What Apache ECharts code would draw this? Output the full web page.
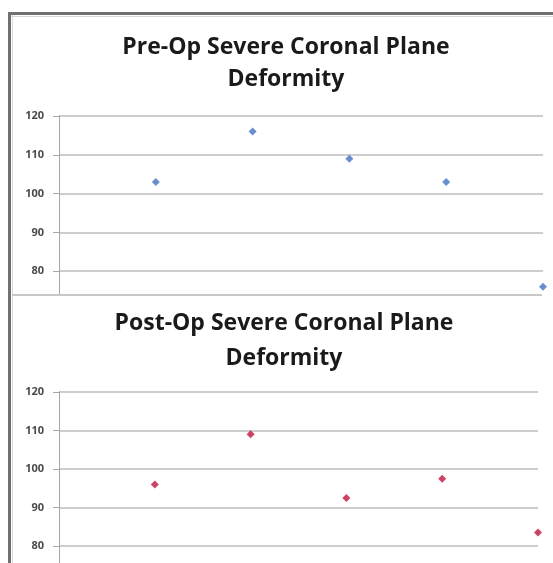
<!DOCTYPE html>
<html>
<head>
<meta charset="utf-8">
<script src="https://cdn.jsdelivr.net/npm/echarts@6/dist/echarts.min.js"></script>
<style>
html,body{margin:0;padding:0;background:#fff;}
#wrapTop{position:absolute;left:0;top:0;width:553px;height:294px;overflow:hidden;}
#wrapBot{position:absolute;left:0;top:294px;width:553px;height:269px;overflow:hidden;}
#chartTop,#chartBot{width:553px;height:330px;}
</style>
</head>
<body>
<div id="wrapTop"><div id="chartTop"></div></div>
<div id="wrapBot"><div id="chartBot"></div></div>
<script>
const xPositions = [1, 2, 3, 4, 5];
const preOpValues = [103, 116, 109, 103, 76];
const postOpValues = [96, 109, 92.5, 97.5, 83.5];
const yTicks = [70, 80, 90, 100, 110, 120];
const titlePre = 'Pre-Op Severe Coronal Plane\nDeformity';
const titlePost = 'Post-Op Severe Coronal Plane\nDeformity';

function makeOption(title, values, color, cfg) {
  return {
    animation: false,
    backgroundColor: '#fff',
    grid: {left: 59, top: cfg.top, width: cfg.width, height: cfg.height},
    xAxis: {type: 'value', min: 0, max: 5, show: false},
    yAxis: {
      type: 'value', min: yTicks[0], max: yTicks[yTicks.length - 1], interval: 10,
      axisLine: {show: true, lineStyle: {color: '#a6a6a6', width: 1}},
      axisTick: {show: true, length: 6, lineStyle: {color: '#a6a6a6'}},
      axisLabel: {margin: 15, fontFamily: 'Open Sans', fontSize: 11, color: '#4a4a4a', fontWeight: 'bold'},
      splitLine: {show: true, lineStyle: {color: '#bdbdbd', width: 1.5}}
    },
    series: [{
      type: 'scatter',
      symbol: 'diamond',
      symbolSize: 8,
      clip: false,
      itemStyle: {color: color},
      data: xPositions.map((x, i) => [x, values[i]])
    }],
    graphic: cfg.graphic.concat([{
      type: 'text',
      x: cfg.titleX, y: cfg.titleY,
      style: {
        text: title, textAlign: 'center', textVerticalAlign: 'top',
        font: 'bold 23px "Open Sans"', fill: '#1a1a1a', lineHeight: cfg.lineHeight
      }
    }])
  };
}

const chartTop = echarts.init(document.getElementById('chartTop'), null, {renderer: 'canvas'});
chartTop.setOption(makeOption(titlePre, preOpValues, '#4472c4', {
  top: 116, width: 484, height: 194, titleX: 286, titleY: 31, lineHeight: 32,
  graphic: [
    {type: 'rect', shape: {x: 8, y: 12, width: 545, height: 3}, style: {fill: '#707070'}},
    {type: 'rect', shape: {x: 8, y: 12, width: 3, height: 320}, style: {fill: '#707070'}},
    {type: 'rect', shape: {x: 11, y: 16, width: 542, height: 1}, style: {fill: '#d9d9d9'}},
    {type: 'rect', shape: {x: 12, y: 15, width: 1, height: 320}, style: {fill: '#d9d9d9'}}
  ]
}));

const chartBot = echarts.init(document.getElementById('chartBot'), null, {renderer: 'canvas'});
chartBot.setOption(makeOption(titlePost, postOpValues, '#c0143c', {
  top: 98, width: 479, height: 192.5, titleX: 284, titleY: 12, lineHeight: 35,
  graphic: [
    {type: 'rect', shape: {x: 8, y: 0, width: 3, height: 330}, style: {fill: '#707070'}},
    {type: 'rect', shape: {x: 12, y: 0, width: 1, height: 330}, style: {fill: '#d9d9d9'}},
    {type: 'rect', shape: {x: 12, y: 0, width: 530, height: 2}, style: {fill: '#c8c8c8'}}
  ]
}));
</script>
</body>
</html>
